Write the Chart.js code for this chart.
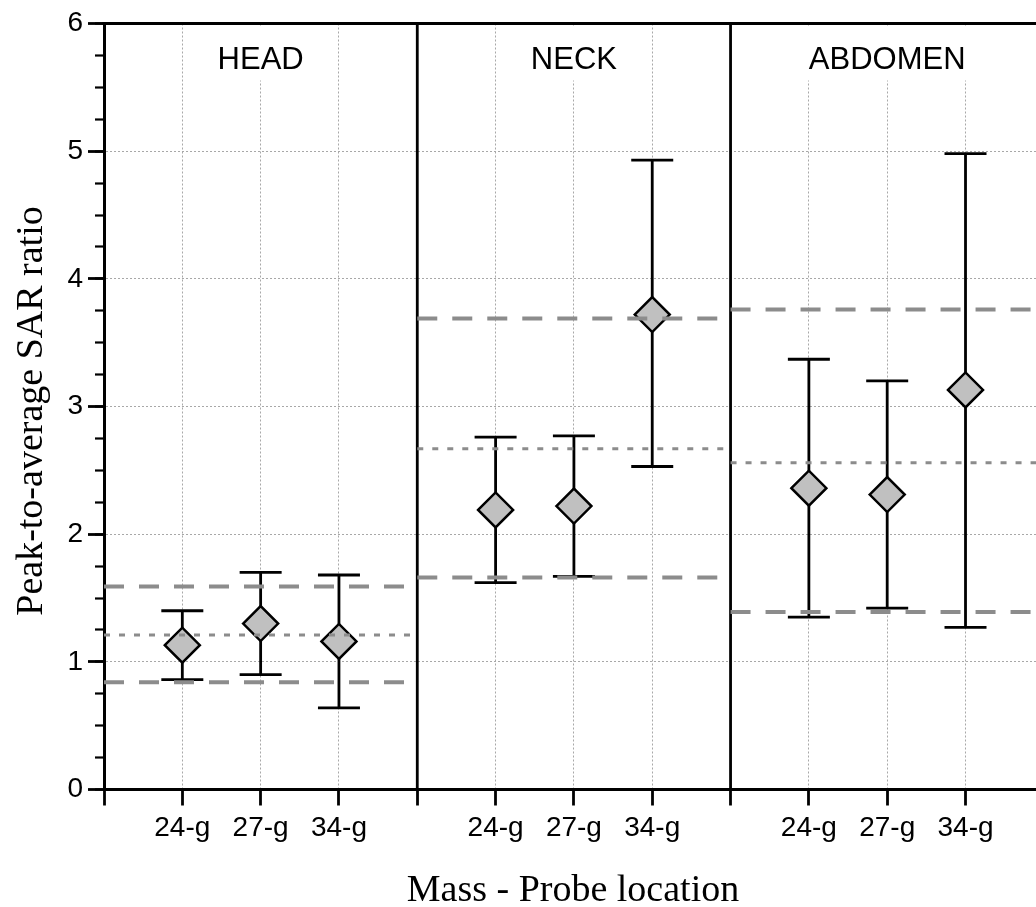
<!DOCTYPE html>
<html>
<head>
<meta charset="utf-8">
<script src="https://cdn.jsdelivr.net/npm/chart.js@4/dist/chart.umd.min.js"></script>
<style>
  html, body { margin: 0; padding: 0; background: #fff; overflow: hidden; }
  #wrap { width: 1036px; height: 907px; }
</style>
</head>
<body>
<div id="wrap"><canvas id="chart" width="1036" height="907"></canvas></div>
<script>
'use strict';

/* ---- Data ---- */
const panelNames = ['HEAD', 'NECK', 'ABDOMEN'];
const massLabels = ['24-g', '27-g', '34-g'];
// slot on the x axis: 4 slots per panel, slot 0 of each panel is the divider
const pointSlots = [1, 2, 3, 5, 6, 7, 9, 10, 11];
const ratioMean = [1.13, 1.30, 1.16, 2.19, 2.22, 3.72, 2.36, 2.31, 3.13];
const ratioHigh = [1.40, 1.70, 1.68, 2.76, 2.77, 4.93, 3.37, 3.20, 4.98];
const ratioLow  = [0.86, 0.90, 0.64, 1.62, 1.67, 2.53, 1.35, 1.42, 1.27];
const panelUpper = [1.59, 3.69, 3.76];
const panelAvg   = [1.21, 2.67, 2.56];
const panelLower = [0.84, 1.66, 1.39];
const yMin = 0, yMax = 6;

const SANS = '"Liberation Sans", Arial, sans-serif';
const SERIF = '"Liberation Serif", "Times New Roman", serif';
const GRID = '#a8a8a8';
const REF = '#8c8c8c';

/* ---- one line per panel, broken between panels ---- */
function panelLine(values) {
  const pts = [];
  values.forEach((v, i) => {
    if (i) pts.push({ x: i * 4, y: null });
    pts.push({ x: i * 4, y: v }, { x: i * 4 + 4, y: v });
  });
  return pts;
}

/* ---- Dividers, error bars, labels, titles ---- */
const panelPlugin = {
  id: 'panels',
  beforeDatasetsDraw(chart) {
    const { ctx, chartArea: a, scales: { x, y } } = chart;
    ctx.save();
    ctx.strokeStyle = '#000';

    // panel labels on a white box
    ctx.font = '31px ' + SANS;
    ctx.textAlign = 'center';
    ctx.textBaseline = 'alphabetic';
    panelNames.forEach((name, i) => {
      const px = x.getPixelForValue(i * 4 + 2);
      const w = ctx.measureText(name).width;
      ctx.fillStyle = '#fff';
      ctx.fillRect(px - w / 2 - 6, a.top + 3, w + 12, 54);
      ctx.fillStyle = '#000';
      ctx.fillText(name, px, 69);
    });

    // panel dividers
    ctx.lineWidth = 2.8;
    [4, 8].forEach(v => {
      const px = x.getPixelForValue(v);
      ctx.beginPath();
      ctx.moveTo(px, a.top);
      ctx.lineTo(px, a.bottom);
      ctx.stroke();
    });

    // top frame
    ctx.lineWidth = 3;
    ctx.beginPath();
    ctx.moveTo(a.left - 1.5, a.top);
    ctx.lineTo(a.right, a.top);
    ctx.stroke();

    // error bars
    ctx.lineWidth = 2.8;
    pointSlots.forEach((s, i) => {
      const px = x.getPixelForValue(s);
      const hi = y.getPixelForValue(ratioHigh[i]);
      const lo = y.getPixelForValue(ratioLow[i]);
      ctx.beginPath();
      ctx.moveTo(px, hi);
      ctx.lineTo(px, lo);
      ctx.moveTo(px - 21, hi);
      ctx.lineTo(px + 21, hi);
      ctx.moveTo(px - 21, lo);
      ctx.lineTo(px + 21, lo);
      ctx.stroke();
    });
    ctx.restore();
  },
  afterDraw(chart) {
    const { ctx } = chart;
    ctx.save();
    ctx.fillStyle = '#000';
    ctx.font = '38px ' + SERIF;
    ctx.textAlign = 'center';
    ctx.textBaseline = 'alphabetic';
    ctx.fillText('Mass - Probe location', 573, 901);

    ctx.translate(42, 411);
    ctx.rotate(-Math.PI / 2);
    ctx.fillText('Peak-to-average SAR ratio', 0, 0);
    ctx.restore();
  }
};

/* ---- Chart ---- */
new Chart(document.getElementById('chart'), {
  type: 'line',
  data: {
    datasets: [
      {
        label: 'upper',
        data: panelLine(panelUpper),
        borderColor: REF, borderWidth: 4, borderDash: [20, 15],
        pointRadius: 0, fill: false, order: 1
      },
      {
        label: 'lower',
        data: panelLine(panelLower),
        borderColor: REF, borderWidth: 4, borderDash: [20, 15],
        pointRadius: 0, fill: false, order: 1
      },
      {
        label: 'average',
        data: panelLine(panelAvg),
        borderColor: REF, borderWidth: 3, borderDash: [6, 9],
        pointRadius: 0, fill: false, order: 1
      },
      {
        label: 'ratio',
        data: pointSlots.map((s, i) => ({ x: s, y: ratioMean[i] })),
        showLine: false,
        pointStyle: 'rectRot',
        pointRadius: 17.5,
        pointHoverRadius: 17.5,
        pointBackgroundColor: '#c0c0c0',
        pointBorderColor: '#000',
        pointBorderWidth: 2.5,
        order: 2
      }
    ]
  },
  options: {
    responsive: false,
    animation: false,
    events: [],
    layout: { autoPadding: false, padding: { top: 23.5, right: 0, left: 0, bottom: 0 } },
    plugins: { legend: { display: false }, tooltip: { enabled: false } },
    scales: {
      x: {
        type: 'linear', min: 0, max: 11.9,
        afterFit: s => { s.height = 117.5; s.paddingLeft = 0; s.paddingRight = 0; },
        ticks: {
          stepSize: 1, includeBounds: false, autoSkip: false, maxRotation: 0,
          font: { family: SANS, size: 28 }, color: '#000', padding: 6,
          callback: v => {
            const i = pointSlots.indexOf(v);
            return i < 0 ? '' : massLabels[i % 3];
          }
        },
        grid: {
          color: c => (c.tick && c.tick.value % 4 === 0) ? 'rgba(0,0,0,0)' : GRID,
          lineWidth: 1, tickColor: '#000', tickWidth: 2.8, tickLength: 16
        },
        border: { color: '#000', width: 3, dash: [2, 2] }
      },
      y: {
        min: yMin, max: yMax, weight: 1,
        afterFit: s => { s.width = 104; },
        ticks: {
          stepSize: 1, font: { family: SANS, size: 28 }, color: '#000', padding: 5
        },
        grid: {
          color: c => (c.tick && (c.tick.value === yMin || c.tick.value === yMax)) ? 'rgba(0,0,0,0)' : GRID,
          lineWidth: 1, tickColor: '#000', tickWidth: 2.8, tickLength: 16
        },
        border: { color: '#000', width: 3, dash: [2, 2] }
      },
      yMinor: {
        position: 'left', min: yMin, max: yMax, weight: 0,
        afterFit: s => { s.width = 0; },
        ticks: { stepSize: 0.25, display: false },
        grid: { drawOnChartArea: false, tickColor: '#000', tickWidth: 2.2, tickLength: 9 },
        border: { display: false }
      }
    }
  },
  plugins: [panelPlugin]
});
</script>
</body>
</html>
